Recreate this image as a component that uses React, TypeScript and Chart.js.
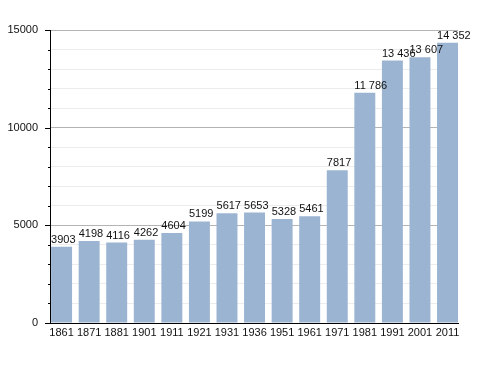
import React, { useEffect, useRef } from "react";
import { Chart, registerables } from "chart.js";

Chart.register(...registerables);

const categories = ["1861", "1871", "1881", "1901", "1911", "1921", "1931", "1936", "1951", "1961", "1971", "1981", "1991", "2001", "2011"];
const population = [3903, 4198, 4116, 4262, 4604, 5199, 5617, 5653, 5328, 5461, 7817, 11786, 13436, 13607, 14352];
const yTickLabels = [0, 5000, 10000, 15000];

const FONT = "'Liberation Sans', Arial, sans-serif";

function fmt(v: number): string {
  if (v >= 10000) {
    const s = String(v);
    return s.slice(0, s.length - 3) + " " + s.slice(s.length - 3);
  }
  return String(v);
}

const labelsPlugin = {
  id: "barLabels",
  afterDatasetsDraw(chart: any) {
    const ctx = chart.ctx;
    const meta = chart.getDatasetMeta(0);
    ctx.save();
    ctx.font = `11px ${FONT}`;
    ctx.fillStyle = "#111";
    ctx.textAlign = "left";
    ctx.textBaseline = "alphabetic";
    meta.data.forEach((bar: any, i: number) => {
      const left = bar.x - bar.width / 2;
      ctx.fillText(fmt(population[i]), left, bar.y - 4);
    });
    ctx.restore();
  },
};

const yTicksPlugin = {
  id: "yTickMarks",
  afterDraw(chart: any) {
    const ctx = chart.ctx;
    const y = chart.scales.y;
    const left = chart.chartArea.left;
    ctx.save();
    ctx.strokeStyle = "#000";
    ctx.lineWidth = 1;
    y.ticks.forEach((t: any) => {
      const py = Math.round(y.getPixelForValue(t.value)) + 0.5;
      const len = t.value % 5000 === 0 ? 5 : 2;
      ctx.beginPath();
      ctx.moveTo(left - len, py);
      ctx.lineTo(left, py);
      ctx.stroke();
    });
    ctx.restore();
  },
};

export default function App() {
  const ref = useRef<HTMLCanvasElement | null>(null);
  useEffect(() => {
    if (!ref.current) return;
    const chart = new Chart(ref.current, {
      type: "bar",
      data: {
        datasets: [
          {
            data: population.map((v, i) => ({ x: i, y: v })),
            backgroundColor: "#9bb4d1",
            borderWidth: 0,
            barPercentage: 0.76,
            categoryPercentage: 1,
          },
        ],
      },
      options: {
        animation: false,
        responsive: false,
        maintainAspectRatio: false,
        layout: { padding: { left: 0, right: 30, top: 30, bottom: 30 } },
        plugins: { legend: { display: false }, tooltip: { enabled: false } },
        scales: {
          x: {
            type: "linear",
            offset: false,
            min: -0.42,
            max: 14.38,
            afterFit: (s: any) => {
              s.height = 20;
            },
            grid: { display: false, drawTicks: false, offset: false },
            border: { display: true, color: "#000", width: 1 },
            ticks: {
              stepSize: 1,
              includeBounds: false,
              autoSkip: false,
              maxRotation: 0,
              padding: 3,
              color: "#111",
              font: { family: FONT, size: 11 },
              callback: (v: any) => {
                const n = Number(v);
                return Number.isInteger(n) && categories[n] !== undefined ? categories[n] : "";
              },
            },
          },
          y: {
            min: 0,
            max: 15000,
            afterFit: (s: any) => {
              s.width = 50;
            },
            grid: {
              drawTicks: false,
              color: (c: any) => (c.tick && c.tick.value % 5000 === 0 ? "#b4b4b4" : "#ececec"),
            },
            border: { display: true, color: "#000", width: 1 },
            ticks: {
              stepSize: 1000,
              padding: 12,
              color: "#111",
              font: { family: FONT, size: 11 },
              callback: (v: any) => (yTickLabels.includes(Number(v)) ? String(v) : ""),
            },
          },
        },
      },
      plugins: [labelsPlugin, yTicksPlugin],
    } as any);
    return () => chart.destroy();
  }, []);
  return (
    <div style={{ position: "absolute", left: 0, top: 0, width: 488, height: 373, background: "#fff" }}>
      <canvas ref={ref} width={488} height={373} style={{ width: 488, height: 373 }} />
    </div>
  );
}
